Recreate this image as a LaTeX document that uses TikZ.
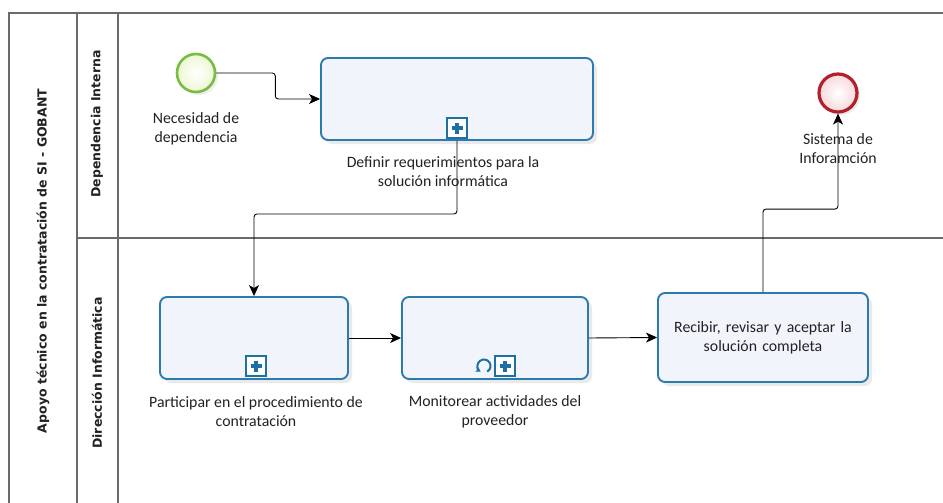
\documentclass[tikz,border=0pt]{standalone}
\usepackage{fontspec}
\setmainfont{Carlito}
\newfontfamily\lanefont{DejaVu Sans}
\usetikzlibrary{arrows.meta,shadows}

\definecolor{poolline}{HTML}{6A6A6A}
\definecolor{taskline}{HTML}{2B7BAF}
\definecolor{taskfill}{HTML}{F1F4FB}
\definecolor{markline}{HTML}{1D6FA5}
\definecolor{startline}{HTML}{78BC44}
\definecolor{startfill}{HTML}{EEF7D2}
\definecolor{endline}{HTML}{B1202C}
\definecolor{endfill}{HTML}{F6D8DB}
\definecolor{txt}{HTML}{222222}

\tikzset{
  pool/.style={draw=poolline, line width=1.1pt},
  task/.style={draw=taskline, line width=1.9pt, fill=taskfill, rounded corners=7pt,
    drop shadow={opacity=0.16, shadow xshift=4pt, shadow yshift=-4pt}},
  startev/.style={circle, minimum size=38pt, inner sep=0pt, draw=startline, line width=2.6pt,
    inner color=white, outer color=startfill,
    drop shadow={opacity=0.14, shadow xshift=3pt, shadow yshift=-3pt}},
  endev/.style={circle, minimum size=38pt, inner sep=0pt, draw=endline, line width=3.2pt,
    inner color=white, outer color=endfill,
    drop shadow={opacity=0.14, shadow xshift=3pt, shadow yshift=-3pt}},
  subproc/.style={draw=markline, line width=2.2pt, fill=white, minimum size=20pt, inner sep=0pt},
  plusbar/.style={draw=markline, line width=3.4pt},
  flow/.style={draw=black, line width=0.9pt, rounded corners=3pt,
    -{Stealth[length=11pt,width=10pt,inset=3pt]}},
  lbl/.style={text=txt, align=center, font=\fontsize{15.8}{19}\selectfont},
  lanelbl/.style={rotate=90, text=txt, font=\lanefont\bfseries\fontsize{12.5}{14}\selectfont},
}

\begin{document}
\begin{tikzpicture}[x=1pt,y=-1pt]
  \useasboundingbox (0,0) rectangle (943,503);
  \fill[white] (0,0) rectangle (943,503);

  % pool and lanes
  \draw[pool] (943,13) -- (9,13) -- (9,503);
  \draw[pool] (77,13) -- (77,503);
  \draw[pool] (118,13) -- (118,503);
  \draw[pool] (77,238) -- (943,238);

  \node[lanelbl] (poolname) at (43,261) {Apoyo técnico en la contratación de SI - GOBANT};
  \node[lanelbl] (lanedep) at (97,124) {Dependencia Interna};
  \node[lanelbl] (lanedir) at (97,373) {Dirección Informática};

  % events
  \node[startev] (start) at (196,73) {};
  \node[lbl] (startlbl) at (196,128.5) {Necesidad de\\dependencia};
  \node[endev] (end) at (838,93) {};
  \node[lbl] (endlbl) at (838,148.5) {Sistema de\\Inforamción};

  % tasks
  \node[task, minimum width=272pt, minimum height=82pt] (t1) at (457,99) {};
  \node[task, minimum width=188pt, minimum height=82pt] (t2) at (254,338) {};
  \node[task, minimum width=186pt, minimum height=82pt] (t3) at (495,338) {};
  \node[task, minimum width=210pt, minimum height=89pt, lbl, text width=200pt] (t4) at (763,337.5)
    {Recibir, revisar y aceptar la\\solución completa};

  \node[lbl] (t1lbl) at (443,171.5) {Definir requerimientos para la\\solución informática};
  \node[lbl] (t2lbl) at (256,412) {Participar en el procedimiento de\\contratación};
  \node[lbl] (t3lbl) at (495,412) {Monitorear actividades del\\proveedor};

  % connectors
  \draw[flow] (start.east) -- ++(59,0) |- (t1.west);
  \draw[flow] (t1.south) -- ++(0,73) -| (t2.north);
  \draw[flow] (t2.east) -- (t3.west);
  \draw[flow] (t3.east) -- (t4.west);
  \draw[flow] (t4.north) -- ++(0,-83) -| (end.south);

  % collapsed sub-process markers
  \foreach \m/\x/\y in {m1/457/128, m2/256/366, m3/505/366} {
    \node[subproc] (\m) at (\x,\y) {};
    \draw[plusbar] ([xshift=-5.5pt]\m.center) -- ([xshift=5.5pt]\m.center);
    \draw[plusbar] ([yshift=-5.5pt]\m.center) -- ([yshift=5.5pt]\m.center);
  }
  % loop marker
  \coordinate (loopc) at (484,366);
  \draw[draw=markline, line width=2pt, {Stealth[length=5pt,width=6pt]}-]
    ([shift={(120:6.5)}]loopc) arc[start angle=120, end angle=420, radius=6.5];
\end{tikzpicture}
\end{document}
